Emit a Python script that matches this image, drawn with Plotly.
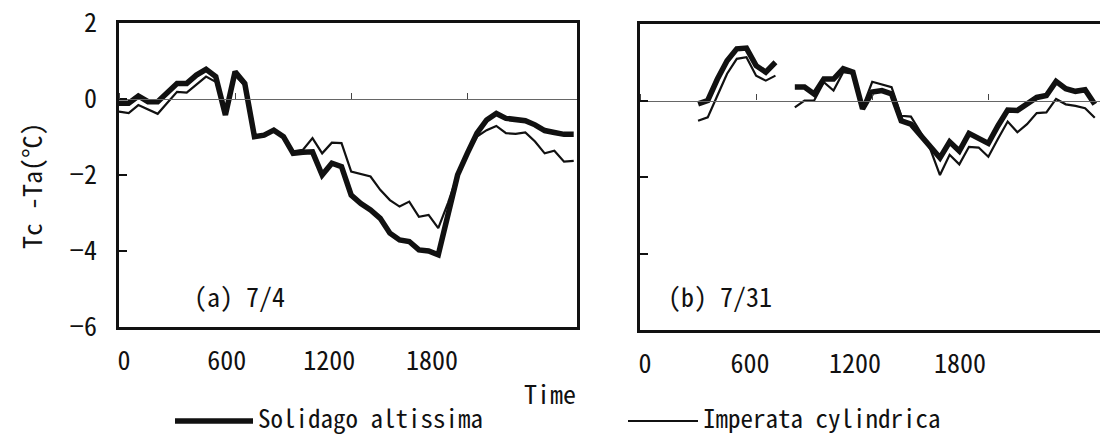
import plotly.graph_objects as go

# ---------------- data ----------------
hours = [0.0, 0.5, 1.0, 1.5, 2.0, 2.5, 3.0, 3.5, 4.0, 4.5, 5.0, 5.5,
         6.0, 6.5, 7.0, 7.5, 8.0, 8.5, 9.0, 9.5, 10.0, 10.5, 11.0, 11.5,
         12.0, 12.5, 13.0, 13.5, 14.0, 14.5, 15.0, 15.5, 16.0, 16.5, 17.0, 17.5,
         18.0, 18.5, 19.0, 19.5, 20.0, 20.5, 21.0, 21.5, 22.0, 22.5, 23.0, 23.5]

series_names = ["Solidago altissima", "Imperata cylindrica"]

# (a) 7/4
solidago_a = [-0.11, -0.11, 0.08, -0.07, -0.07, 0.15, 0.41, 0.41, 0.63, 0.78, 0.59, -0.42,
              0.72, 0.41, -0.99, -0.95, -0.82, -0.99, -1.43, -1.40, -1.39, -2.00, -1.69, -1.78,
              -2.53, -2.75, -2.92, -3.14, -3.53, -3.71, -3.75, -3.97, -4.00, -4.10, -3.00, -2.00,
              -1.43, -0.90, -0.55, -0.38, -0.51, -0.55, -0.57, -0.68, -0.83, -0.88, -0.93, -0.93]
imperata_a = [-0.33, -0.37, -0.16, -0.28, -0.39, -0.10, 0.19, 0.17, 0.38, 0.59, 0.45, -0.38,
              0.62, 0.35, -0.97, -0.93, -0.80, -0.97, -1.38, -1.34, -1.03, -1.43, -1.15, -1.16,
              -1.91, -1.98, -2.04, -2.39, -2.66, -2.83, -2.70, -3.10, -3.05, -3.40, -2.74, -2.00,
              -1.45, -0.99, -0.82, -0.71, -0.90, -0.92, -0.88, -1.12, -1.43, -1.36, -1.65, -1.63]

# (b) 7/31  (None = missing record)
solidago_b = [None, None, None, None, None, None, -0.09, 0.00, 0.56, 1.04, 1.35, 1.37,
              0.91, 0.74, 1.00, None, 0.35, 0.35, 0.17, 0.56, 0.56, 0.83, 0.74, -0.22,
              0.22, 0.26, 0.17, -0.53, -0.62, -0.92, -1.19, -1.50, -1.08, -1.32, -0.86, -0.98,
              -1.12, -0.66, -0.25, -0.26, -0.09, 0.08, 0.13, 0.50, 0.31, 0.24, 0.28, -0.10]
imperata_b = [None, None, None, None, None, None, -0.53, -0.44, 0.13, 0.70, 1.09, 1.13,
              0.65, 0.52, 0.65, None, -0.18, 0.00, 0.00, 0.48, 0.26, 0.74, 0.70, -0.18,
              0.49, 0.43, 0.35, -0.40, -0.42, -0.83, -1.27, -1.95, -1.42, -1.67, -1.21, -1.23,
              -1.47, -1.00, -0.55, -0.83, -0.62, -0.33, -0.31, 0.04, -0.10, -0.14, -0.20, -0.45]

tick_hours = [0, 6, 12, 18]                 # tick marks on the zero line
time_label_vals = [0, 600, 1200, 1800]      # printed time labels (hhmm)
time_label_text = ["0", "600", "1200", "1800"]
y_tick_vals = [2, 0, -2, -4, -6]
panel_labels = ["(a) 7/4", "(b) 7/31"]
y_title = "Tc -Ta(°C)"
x_title = "Time"

# ---------------- layout helpers ----------------
W, H = 1100, 439


def px(x):
    return x / W


def py(y):
    return 1 - y / H


FONT = "Noto Sans Mono CJK JP, DejaVu Sans Mono, monospace"
INK = "#111111"
THICK = 5.5
THIN = 2.2
FS = 26
FS_LEG = 25

xa_px = [119, 577]
xb_px = [640, 1100]
ya_dom = [py(327), py(23)]
yb_dom = [py(330), py(24)]
Y_RANGE = [-6, 2]


def zero_pos(dom):
    return dom[0] + (0 - Y_RANGE[0]) / (Y_RANGE[1] - Y_RANGE[0]) * (dom[1] - dom[0])


def label_range(dom_px, p0, p1800):
    s = (p1800 - p0) / 1800.0
    return [(dom_px[0] - p0) / s, (dom_px[1] - p0) / s]


fig = go.Figure()

# panel (a)
fig.add_trace(go.Scatter(x=hours, y=solidago_a, xaxis="x", yaxis="y", mode="lines",
                         name=series_names[0], line=dict(color=INK, width=THICK), showlegend=False))
fig.add_trace(go.Scatter(x=hours, y=imperata_a, xaxis="x", yaxis="y", mode="lines",
                         name=series_names[1], line=dict(color=INK, width=THIN), showlegend=False))
# panel (b)
fig.add_trace(go.Scatter(x=hours, y=solidago_b, xaxis="x2", yaxis="y2", mode="lines",
                         name=series_names[0], line=dict(color=INK, width=THICK), showlegend=False))
fig.add_trace(go.Scatter(x=hours, y=imperata_b, xaxis="x2", yaxis="y2", mode="lines",
                         name=series_names[1], line=dict(color=INK, width=THIN), showlegend=False))
# empty traces so the helper axes get drawn
for xa, ya in [("x3", "y"), ("x4", "y2"), ("x5", "y"), ("x6", "y2")]:
    fig.add_trace(go.Scatter(x=[None], y=[None], xaxis=xa, yaxis=ya, showlegend=False, hoverinfo="skip"))

frame_x = dict(showgrid=False, zeroline=False, showline=True, linecolor=INK, linewidth=2.5,
               mirror=True, ticks="", showticklabels=False, automargin=False, fixedrange=True)
common_y = dict(showgrid=False, zeroline=False, showline=True, linecolor=INK, linewidth=2.5,
                ticks="inside", ticklen=8, tickwidth=1.5, tickcolor=INK, tickvals=y_tick_vals,
                range=Y_RANGE, automargin=False, fixedrange=True)
zero_x = dict(showgrid=False, zeroline=False, showline=True, linecolor="#666666", linewidth=1.2,
              ticks="outside", ticklen=6, tickwidth=1.2, tickcolor="#444444", tickvals=tick_hours,
              showticklabels=False, side="top", anchor="free", automargin=False, fixedrange=True)
label_x = dict(showgrid=False, zeroline=False, showline=False, ticks="", tickvals=time_label_vals,
               ticktext=time_label_text, tickfont=dict(family=FONT, size=FS, color=INK),
               ticklabelstandoff=16, side="bottom", automargin=False, fixedrange=True)

fig.update_layout(
    width=W, height=H,
    margin=dict(l=0, r=0, t=0, b=0),
    paper_bgcolor="white", plot_bgcolor="white",
    showlegend=False,
    font=dict(family=FONT, size=FS, color=INK),
    xaxis=dict(domain=[px(xa_px[0]), px(xa_px[1])], range=[0, 23.67], anchor="y", **frame_x),
    yaxis=dict(domain=ya_dom, anchor="x", mirror=True, showticklabels=True,
               tickfont=dict(family=FONT, size=FS, color=INK), ticklabelstandoff=14, **common_y),
    xaxis2=dict(domain=[px(xb_px[0]), px(xb_px[1])], range=[0, 23.77], anchor="y2", **frame_x),
    yaxis2=dict(domain=yb_dom, anchor="x2", mirror=False, showticklabels=False, **common_y),
    xaxis3=dict(overlaying="x", matches="x", position=zero_pos(ya_dom), **zero_x),
    xaxis4=dict(overlaying="x2", matches="x2", position=zero_pos(yb_dom), **zero_x),
    xaxis5=dict(overlaying="x", anchor="y", range=label_range(xa_px, 124, 432), **label_x),
    xaxis6=dict(overlaying="x2", anchor="y2", range=label_range(xb_px, 645, 960), **label_x),
)

ann = []
# y-axis title
ann.append(dict(text=y_title, x=px(30), y=py(186), xref="paper", yref="paper", textangle=-90,
                showarrow=False, font=dict(family=FONT, size=FS, color=INK),
                xanchor="center", yanchor="middle"))
# x-axis title
ann.append(dict(text=x_title, x=px(578), y=py(392), xref="paper", yref="paper", showarrow=False,
                font=dict(family=FONT, size=FS, color=INK), xanchor="right", yanchor="middle"))
# panel labels
ann.append(dict(text=panel_labels[0], x=0.16, y=0.105, xref="x domain", yref="y domain",
                showarrow=False, font=dict(family=FONT, size=FS, color=INK),
                xanchor="left", yanchor="middle"))
ann.append(dict(text=panel_labels[1], x=0.057, y=0.114, xref="x2 domain", yref="y2 domain",
                showarrow=False, font=dict(family=FONT, size=FS, color=INK),
                xanchor="left", yanchor="middle"))
# legend texts
ann.append(dict(text=series_names[0], x=px(256), y=py(437), xref="paper", yref="paper",
                showarrow=False, font=dict(family=FONT, size=FS_LEG, color=INK),
                xanchor="left", yanchor="bottom"))
ann.append(dict(text=series_names[1], x=px(701), y=py(437), xref="paper", yref="paper",
                showarrow=False, font=dict(family=FONT, size=FS_LEG, color=INK),
                xanchor="left", yanchor="bottom"))
fig.update_layout(annotations=ann)

# legend line samples
fig.add_shape(type="line", xref="paper", yref="paper", x0=px(175), x1=px(253), y0=py(421), y1=py(421),
              line=dict(color=INK, width=THICK))
fig.add_shape(type="line", xref="paper", yref="paper", x0=px(628), x1=px(698), y0=py(421), y1=py(421),
              line=dict(color=INK, width=THIN))

fig.write_html("out.html")
